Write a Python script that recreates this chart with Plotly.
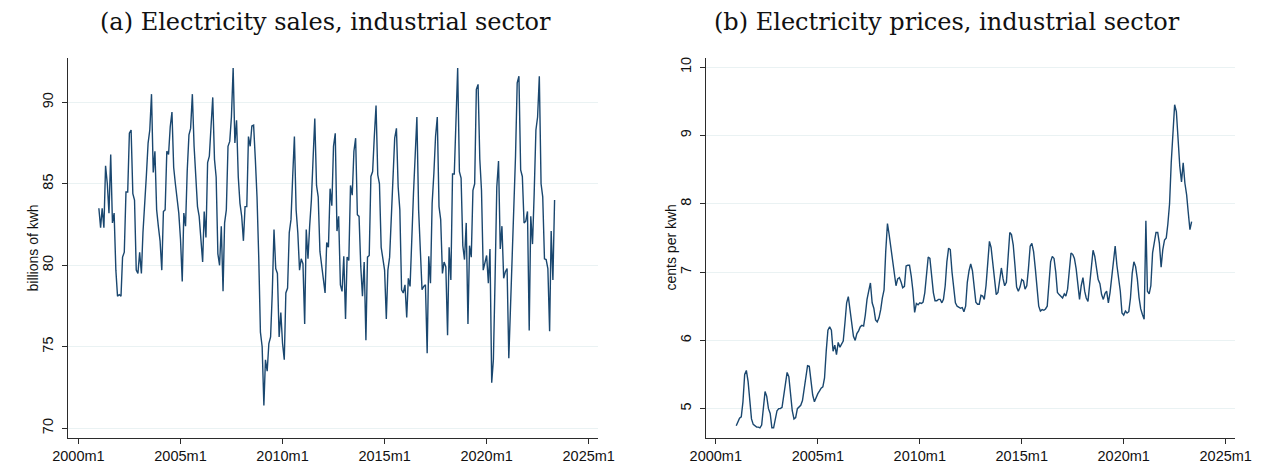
import pandas as pd
import plotly.graph_objects as go

# Monthly data, 2001m1 .. 2023m5
sales = [
    83.5, 82.3, 83.5, 82.3, 86.1, 85.0, 83.2, 86.8, 82.6, 83.2, 79.7, 78.1,   # 2001
    78.2, 78.1, 80.5, 80.8, 84.5, 84.5, 88.1, 88.3, 84.4, 84.0, 79.7, 79.5,   # 2002
    80.8, 79.5, 82.0, 83.5, 85.5, 87.5, 88.3, 90.5, 85.7, 87.0, 83.4, 82.4,   # 2003
    81.5, 79.7, 83.3, 83.4, 87.0, 86.8, 88.5, 89.4, 86.0, 85.0, 84.0, 83.2,   # 2004
    81.6, 79.0, 83.2, 82.4, 85.8, 88.0, 88.4, 90.5, 87.3, 85.8, 83.6, 83.0,   # 2005
    81.6, 80.2, 83.3, 81.7, 86.3, 86.7, 88.5, 90.3, 86.5, 85.4, 80.7, 80.0,   # 2006
    82.4, 78.4, 82.6, 83.4, 87.3, 87.6, 89.1, 92.1, 87.5, 88.9, 85.4, 83.8,   # 2007
    83.0, 81.5, 83.6, 83.6, 87.9, 87.3, 88.55, 88.6, 86.5, 84.2, 80.5, 75.9,  # 2008
    75.0, 71.4, 74.2, 73.5, 75.2, 75.6, 78.3, 82.2, 79.8, 79.5, 75.6, 77.1,   # 2009
    75.2, 74.2, 78.3, 78.6, 82.0, 82.8, 85.4, 87.9, 83.4, 82.0, 79.7, 80.4,   # 2010
    80.1, 76.4, 82.2, 80.4, 82.4, 84.0, 86.5, 89.0, 84.9, 84.2, 80.85, 79.9,  # 2011
    79.1, 78.3, 81.4, 81.1, 84.7, 83.65, 87.3, 88.1, 82.1, 83.0, 78.8, 78.4,  # 2012
    80.55, 76.7, 80.5, 80.3, 84.9, 84.3, 87.0, 87.8, 83.1, 83.0, 79.9, 78.1,  # 2013
    80.2, 75.4, 80.5, 80.6, 85.45, 85.75, 87.9, 89.8, 85.55, 85.0, 81.1, 80.3,  # 2014
    79.7, 76.7, 79.7, 80.5, 83.0, 86.3, 87.8, 88.4, 84.8, 83.4, 78.5, 78.3,   # 2015
    78.8, 76.8, 79.2, 78.7, 81.8, 84.4, 86.7, 89.1, 83.4, 81.2, 78.5, 78.7,   # 2016
    78.8, 74.6, 80.55, 78.9, 83.8, 85.65, 87.9, 89.1, 83.6, 82.8, 79.5, 80.2,  # 2017
    79.9, 75.7, 81.1, 79.1, 85.6, 85.6, 88.5, 92.1, 85.75, 85.35, 81.2, 80.35,  # 2018
    82.6, 76.4, 81.2, 80.5, 84.6, 85.0, 90.8, 91.1, 86.5, 84.6, 79.7, 80.1,   # 2019
    80.6, 78.9, 81.0, 72.8, 74.2, 79.3, 84.8, 86.4, 81.0, 82.4, 79.2, 79.6,   # 2020
    79.8, 74.3, 77.3, 79.7, 84.0, 86.7, 91.2, 91.6, 85.85, 85.45, 82.6, 82.7,  # 2021
    83.3, 76.0, 83.0, 81.3, 84.4, 88.3, 89.1, 91.6, 85.0, 84.2, 80.4, 80.35,  # 2022
    79.8, 75.96, 82.1, 79.1, 84.0,                                            # 2023
]

prices = [
    4.75, 4.82, 4.86, 4.88, 5.1, 5.5, 5.56, 5.4, 5.15, 4.85, 4.77, 4.75,      # 2001
    4.73, 4.73, 4.72, 4.76, 5.0, 5.25, 5.18, 5.0, 4.93, 4.72, 4.72, 4.85,     # 2002
    4.97, 5.0, 5.0, 5.02, 5.2, 5.4, 5.53, 5.47, 5.18, 4.97, 4.85, 4.87,       # 2003
    5.0, 5.02, 5.05, 5.12, 5.3, 5.52, 5.63, 5.62, 5.4, 5.2, 5.1, 5.17,        # 2004
    5.22, 5.26, 5.3, 5.32, 5.45, 5.85, 6.15, 6.2, 6.15, 5.84, 5.93, 5.79,     # 2005
    5.97, 5.9, 5.94, 5.99, 6.25, 6.55, 6.64, 6.45, 6.23, 6.06, 6.0, 6.1,      # 2006
    6.14, 6.2, 6.22, 6.21, 6.37, 6.6, 6.72, 6.84, 6.55, 6.47, 6.3, 6.27,      # 2007
    6.33, 6.45, 6.62, 6.74, 7.3, 7.71, 7.55, 7.35, 7.22, 6.95, 6.8, 6.9,      # 2008
    6.92, 6.85, 6.77, 6.79, 7.09, 7.1, 7.1, 6.94, 6.72, 6.41, 6.54, 6.52,     # 2009
    6.55, 6.54, 6.56, 6.7, 7.0, 7.22, 7.2, 6.95, 6.7, 6.58, 6.58, 6.6,        # 2010
    6.6, 6.55, 6.6, 6.8, 7.15, 7.35, 7.33, 7.0, 6.75, 6.55, 6.5, 6.48,        # 2011
    6.47, 6.48, 6.42, 6.5, 6.85, 7.02, 7.12, 7.02, 6.82, 6.56, 6.53, 6.53,    # 2012
    6.66, 6.65, 6.6, 6.8, 7.12, 7.45, 7.36, 7.14, 6.9, 6.67, 6.7, 6.9,        # 2013
    7.06, 6.9, 6.8, 6.85, 7.2, 7.58, 7.55, 7.4, 7.1, 6.78, 6.72, 6.78,        # 2014
    6.89, 6.87, 6.75, 6.8, 7.05, 7.38, 7.42, 7.3, 7.05, 6.72, 6.5, 6.43,      # 2015
    6.45, 6.44, 6.46, 6.5, 6.8, 7.15, 7.23, 7.2, 7.0, 6.7, 6.67, 6.64,        # 2016
    6.62, 6.68, 6.65, 6.75, 7.08, 7.28, 7.26, 7.2, 7.05, 6.8, 6.6, 6.8,       # 2017
    6.92, 6.72, 6.62, 6.57, 6.85, 7.15, 7.32, 7.23, 7.08, 6.89, 6.83, 6.67,   # 2018
    6.6, 6.69, 6.72, 6.55, 6.7, 6.92, 7.15, 7.38, 7.1, 6.88, 6.72, 6.4,       # 2019
    6.37, 6.43, 6.4, 6.42, 6.62, 6.98, 7.15, 7.08, 6.9, 6.63, 6.46, 6.38,     # 2020
    6.31, 7.75, 6.72, 6.68, 6.8, 7.28, 7.45, 7.58, 7.58, 7.42, 7.07, 7.33,    # 2021
    7.47, 7.5, 7.7, 8.0, 8.6, 9.15, 9.45, 9.35, 8.9, 8.55, 8.32, 8.6,         # 2022
    8.3, 8.13, 7.88, 7.62, 7.74,                                              # 2023
]

dates = pd.date_range("2001-01-01", periods=len(sales), freq="MS")
tick_dates = pd.to_datetime(["2000-01-01", "2005-01-01", "2010-01-01",
                             "2015-01-01", "2020-01-01", "2025-01-01"])
tick_text = ["2000m1", "2005m1", "2010m1", "2015m1", "2020m1", "2025m1"]
sales_ticks = [70, 75, 80, 85, 90]
price_ticks = [5, 6, 7, 8, 9, 10]

titles = ["(a) Electricity sales, industrial sector",
          "(b) Electricity prices, industrial sector"]
ytitles = ["billions of kwh", "cents per kwh"]

W, H = 1270, 468
NAVY = "#1a476f"
GRID = "#eaf2f3"
AXIS = "#2b2b2b"
SANS = "Liberation Sans, Arial, sans-serif"

fig = go.Figure()
fig.add_trace(go.Scatter(x=dates, y=sales, mode="lines",
                         line=dict(color=NAVY, width=1.4),
                         xaxis="x", yaxis="y", showlegend=False))
fig.add_trace(go.Scatter(x=dates, y=prices, mode="lines",
                         line=dict(color=NAVY, width=1.4),
                         xaxis="x2", yaxis="y2", showlegend=False))

x_range = ["1999-07-04", "2025-06-16"]
tickfont = dict(family=SANS, size=14.5, color="#111")

xcommon = dict(range=x_range, tickvals=tick_dates, ticktext=tick_text,
               showgrid=False, zeroline=False, showline=True, linecolor=AXIS,
               linewidth=1.2, ticks="outside", ticklen=5, tickcolor=AXIS,
               tickwidth=1.2, tickfont=tickfont, automargin=False)
ycommon = dict(showgrid=True, gridcolor=GRID, gridwidth=1.3, zeroline=False,
               showline=True, linecolor=AXIS, linewidth=1.2, ticks="outside",
               ticklen=5, tickcolor=AXIS, tickwidth=1.2, tickangle=-90,
               ticklabelstandoff=3, tickfont=tickfont, automargin=False)

yb = (H - 437.7) / H
yt = (H - 58.3) / H

fig.update_layout(
    width=W, height=H,
    margin=dict(l=0, r=0, t=0, b=0, autoexpand=False),
    paper_bgcolor="white", plot_bgcolor="white",
    xaxis=dict(domain=[68.3 / W, 598 / W], anchor="y", **xcommon),
    yaxis=dict(domain=[yb, yt], anchor="x", range=[69.42, 92.7],
               tickvals=sales_ticks, **ycommon),
    xaxis2=dict(domain=[705.7 / W, 1235 / W], anchor="y2", **xcommon),
    yaxis2=dict(domain=[yb, yt], anchor="x2", range=[4.575, 10.13],
                tickvals=price_ticks, **ycommon),
)

for cx, txt in [(325, titles[0]), (947, titles[1])]:
    fig.add_annotation(x=cx / W, y=(H - 22) / H, xref="paper", yref="paper",
                       text=txt, showarrow=False, xanchor="center", yanchor="middle",
                       font=dict(family="DejaVu Serif, Liberation Serif, serif",
                                 size=24, color="#111"))

for cx, txt in [(32.5, ytitles[0]), (670.5, ytitles[1])]:
    fig.add_annotation(x=cx / W, y=(H - 248) / H, xref="paper", yref="paper",
                       text=txt, showarrow=False, textangle=-90,
                       xanchor="center", yanchor="middle",
                       font=dict(family=SANS, size=14, color="#111"))

fig.write_html("out.html")
